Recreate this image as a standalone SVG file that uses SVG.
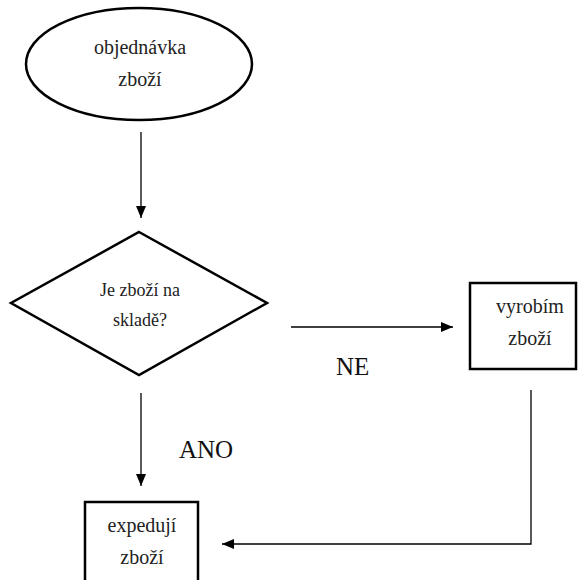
<svg xmlns="http://www.w3.org/2000/svg" width="578" height="580" viewBox="0 0 578 580">
<style>
.shape{fill:#fff;stroke:#000;stroke-width:2.5}
.conn{fill:none;stroke:#000;stroke-width:1.3}
text{font-family:'Liberation Serif','DejaVu Serif','Times New Roman',serif}
.t{font-size:20px;fill:#222;text-anchor:middle}
.d{font-size:18px}
.lbl{font-size:25px;fill:#111}
</style>
<defs>
<marker id="arr" markerUnits="userSpaceOnUse" markerWidth="13" markerHeight="12" refX="12" refY="5" orient="auto">
<path d="M0,0 L12,5 L0,10 Z" fill="#000"/>
</marker>
</defs>
<g id="connectors">
<line class="conn" x1="141" y1="132" x2="141" y2="218" marker-end="url(#arr)"/>
<line class="conn" x1="291" y1="327" x2="453" y2="327" marker-end="url(#arr)"/>
<line class="conn" x1="141" y1="393" x2="141" y2="486" marker-end="url(#arr)"/>
<polyline class="conn" points="531,390 531,544 222,544" marker-end="url(#arr)"/>
<text class="lbl" x="336" y="375" font-family="Liberation Serif, serif">NE</text>
<text class="lbl" x="179" y="458" font-family="Liberation Serif, serif">ANO</text>
</g>
<g id="start">
<ellipse class="shape" cx="139" cy="64" rx="113" ry="56"/>
<text class="t" x="140" y="54">objednávka</text>
<text class="t" x="140" y="86">zboží</text>
</g>
<g id="decision">
<polygon class="shape" points="139,232 267,303 139,375 11,303"/>
<text class="t d" x="140" y="296">Je zboží na</text>
<text class="t d" x="140" y="326">skladě?</text>
</g>
<g id="produce">
<rect class="shape" x="470" y="283" width="106" height="86"/>
<text class="t" x="530" y="313">vyrobím</text>
<text class="t" x="530" y="345">zboží</text>
</g>
<g id="ship">
<rect class="shape" x="85" y="502" width="113" height="90"/>
<text class="t" x="142" y="532">expedují</text>
<text class="t" x="142" y="564">zboží</text>
</g>
</svg>
